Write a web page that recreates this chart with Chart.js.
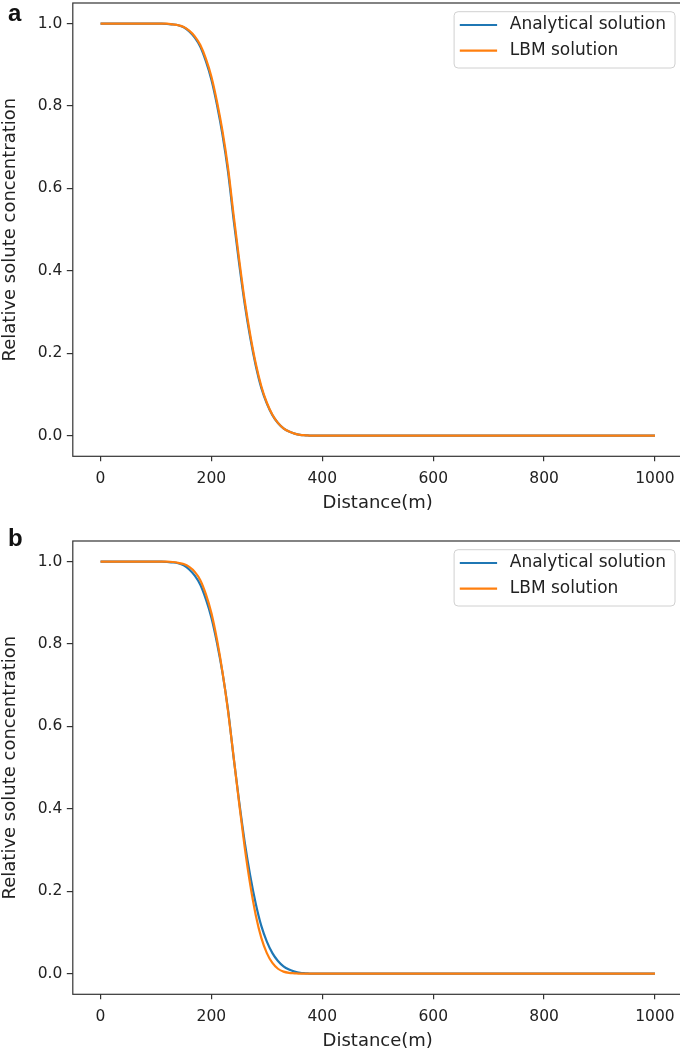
<!DOCTYPE html>
<html>
<head>
<meta charset="utf-8">
<script src="https://cdn.jsdelivr.net/npm/chart.js@4.4.0/dist/chart.umd.min.js"></script>
<style>
  html, body { margin: 0; padding: 0; background: #fff; overflow: hidden; width: 680px; height: 1055px; }
  .panel { position: absolute; left: 0; width: 700px; height: 538px; }
  .tag { position: absolute; left: 8px; font: bold 24px "Liberation Sans", Arial, sans-serif; line-height: 24px; color: #111; }
</style>
</head>
<body>
<div class="panel" style="top:0"><canvas id="chartA" width="700" height="538"></canvas></div>
<div class="panel" style="top:538px"><canvas id="chartB" width="700" height="538"></canvas></div>
<div class="tag" style="top:1px">a</div>
<div class="tag" style="top:526px">b</div>
<script>
// Distance along the column (m)
const distance = [0, 25, 50, 75, 100, 110, 120, 130, 140, 150, 160, 170, 180, 190, 200, 210, 220, 230, 240, 250,
  260, 270, 280, 290, 300, 310, 320, 330, 340, 350, 360, 370, 380, 390, 400,
  450, 500, 550, 600, 650, 700, 750, 800, 850, 900, 950, 1000];

// Panel a: relative concentration
const analyticalA = [1, 1, 1, 1, 1, 1, 0.999, 0.998, 0.996, 0.991, 0.981, 0.966, 0.944, 0.909, 0.864, 0.803, 0.730, 0.640, 0.525, 0.418,
  0.320, 0.238, 0.170, 0.116, 0.078, 0.050, 0.031, 0.018, 0.010, 0.005, 0.002, 0.001, 0, 0, 0,
  0, 0, 0, 0, 0, 0, 0, 0, 0, 0, 0, 0];
const lbmA = [1, 1, 1, 1, 1, 1, 1, 0.998, 0.996, 0.992, 0.983, 0.969, 0.948, 0.915, 0.871, 0.811, 0.739, 0.650, 0.536, 0.428,
  0.328, 0.245, 0.175, 0.120, 0.080, 0.051, 0.031, 0.018, 0.010, 0.005, 0.002, 0.001, 0, 0, 0,
  0, 0, 0, 0, 0, 0, 0, 0, 0, 0, 0, 0];

// Panel b: relative concentration
const analyticalB = [1, 1, 1, 1, 1, 1, 0.999, 0.998, 0.996, 0.991, 0.981, 0.966, 0.944, 0.909, 0.864, 0.803, 0.730, 0.640, 0.525, 0.418,
  0.320, 0.238, 0.170, 0.116, 0.078, 0.050, 0.031, 0.018, 0.010, 0.005, 0.002, 0.001, 0, 0, 0,
  0, 0, 0, 0, 0, 0, 0, 0, 0, 0, 0, 0];
const lbmB = [1, 1, 1, 1, 1, 1, 1, 0.999, 0.997, 0.994, 0.987, 0.975, 0.955, 0.921, 0.875, 0.811, 0.732, 0.637, 0.527, 0.414,
  0.307, 0.216, 0.142, 0.087, 0.050, 0.026, 0.012, 0.005, 0.002, 0.001, 0, 0, 0, 0, 0,
  0, 0, 0, 0, 0, 0, 0, 0, 0, 0, 0, 0];

const xTickValues = [0, 200, 400, 600, 800, 1000];
const yTickValues = [0, 0.2, 0.4, 0.6, 0.8, 1.0];
const seriesLabels = ['Analytical solution', 'LBM solution'];

const seriesColors = ['#1f77b4', '#ff7f0e'];
const textColor = '#222';
const frameColor = '#333';
const FONT = '"DejaVu Sans", sans-serif';

Chart.defaults.font.family = FONT;

const toPoints = ys => distance.map((x, i) => ({ x: x, y: ys[i] }));

// Full box around the plotting area
const frame = {
  id: 'frame',
  afterDraw(chart) {
    const { ctx, chartArea: a } = chart;
    ctx.save();
    ctx.strokeStyle = frameColor;
    ctx.lineWidth = 1.2;
    ctx.strokeRect(a.left, a.top, a.right - a.left, a.bottom - a.top);
    ctx.restore();
  }
};

// Legend box in the upper right corner of the plotting area
const legendBox = {
  id: 'legendBox',
  afterDraw(chart) {
    const { ctx, chartArea: a } = chart;
    const sets = chart.data.datasets;
    ctx.save();
    ctx.font = '17px ' + FONT;
    const textW = Math.max(...sets.map(d => ctx.measureText(d.label).width));
    const w = 55.7 + textW + 9;
    const h = 56.3;
    const right = a.right - 7.7;
    const left = right - w;
    const top = a.top + 8.7;
    const r = 4;
    ctx.beginPath();
    ctx.moveTo(left + r, top);
    ctx.arcTo(right, top, right, top + h, r);
    ctx.arcTo(right, top + h, left, top + h, r);
    ctx.arcTo(left, top + h, left, top, r);
    ctx.arcTo(left, top, right, top, r);
    ctx.closePath();
    ctx.fillStyle = 'rgba(255,255,255,0.8)';
    ctx.fill();
    ctx.strokeStyle = '#d0d0d0';
    ctx.lineWidth = 1;
    ctx.stroke();
    sets.forEach((d, i) => {
      const y = top + 13.3 + i * 25.7;
      ctx.strokeStyle = d.borderColor;
      ctx.lineWidth = 2.2;
      ctx.beginPath();
      ctx.moveTo(left + 5.7, y);
      ctx.lineTo(left + 43, y);
      ctx.stroke();
      ctx.fillStyle = textColor;
      ctx.textBaseline = 'middle';
      ctx.textAlign = 'left';
      ctx.fillText(d.label, left + 55.7, y);
    });
    ctx.restore();
  }
};

// Axis boxes keep fixed sizes so the plotting area sits at a fixed place
const noPad = s => { s.paddingTop = 0; s.paddingBottom = 0; s.paddingLeft = 0; s.paddingRight = 0; };

function makeChart(id, analytical, lbm) {
  return new Chart(document.getElementById(id), {
    type: 'line',
    data: {
      datasets: [
        { label: seriesLabels[0], data: toPoints(analytical), borderColor: seriesColors[0], borderWidth: 2.2,
          pointRadius: 0, fill: false, order: 1, cubicInterpolationMode: 'monotone' },
        { label: seriesLabels[1], data: toPoints(lbm), borderColor: seriesColors[1], borderWidth: 2.2,
          pointRadius: 0, fill: false, order: 0, cubicInterpolationMode: 'monotone' }
      ]
    },
    options: {
      responsive: false,
      animation: false,
      devicePixelRatio: 1,
      events: [],
      layout: { autoPadding: false, padding: { top: 3, right: 17.3, bottom: 0, left: 0 } },
      plugins: { legend: { display: false }, tooltip: { enabled: false } },
      scales: {
        x: {
          type: 'linear', min: -50, max: 1050,
          afterBuildTicks: s => { s.ticks = xTickValues.map(v => ({ value: v })); },
          afterFit: s => { s.height = 81.7; noPad(s); },
          border: { display: false },
          grid: { drawOnChartArea: false, drawTicks: true, tickLength: 5, color: frameColor, lineWidth: 1.2 },
          ticks: { padding: 8.4, color: textColor, font: { size: 15.5 }, maxRotation: 0, autoSkip: false,
                   callback: v => String(v) },
          title: { display: true, text: 'Distance(m)', color: textColor, font: { size: 18 },
                   padding: { top: 0, bottom: 24.2 } }
        },
        y: {
          type: 'linear', min: -0.05, max: 1.05,
          afterBuildTicks: s => { s.ticks = yTickValues.map(v => ({ value: v })); },
          afterFit: s => { s.width = 72.8; noPad(s); },
          border: { display: false },
          grid: { drawOnChartArea: false, drawTicks: true, tickLength: 6, color: frameColor, lineWidth: 1.2 },
          ticks: { padding: 4.5, color: textColor, font: { size: 15.5 }, autoSkip: false,
                   callback: v => Number(v).toFixed(1) },
          title: { display: true, text: 'Relative solute concentration', color: textColor, font: { size: 18 },
                   padding: { top: 0, bottom: 0 } }
        }
      }
    },
    plugins: [frame, legendBox]
  });
}

makeChart('chartA', analyticalA, lbmA);
makeChart('chartB', analyticalB, lbmB);
</script>
</body>
</html>
